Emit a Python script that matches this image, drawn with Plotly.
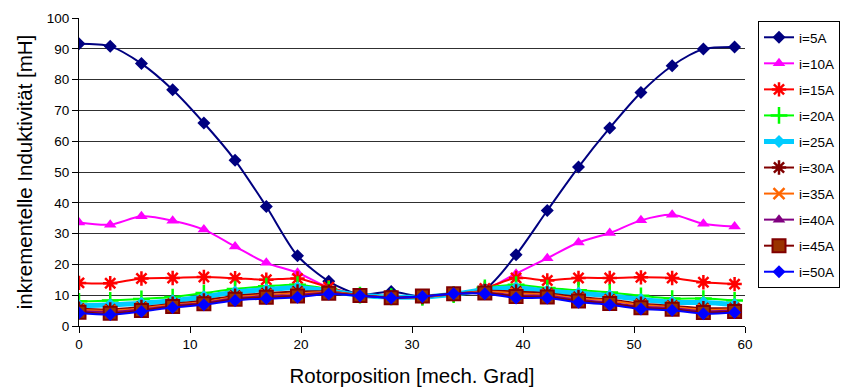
import plotly.graph_objects as go

# Rotor position samples [mech. degrees]
rotor_pos = [0.0, 2.8125, 5.625, 8.4375, 11.25, 14.0625, 16.875, 19.6875, 22.5,
             25.3125, 28.125, 30.9375, 33.75, 36.5625, 39.375, 42.1875, 45.0,
             47.8125, 50.625, 53.4375, 56.25, 59.0625]

# Incremental inductance [mH] per phase current
L_5A = [91.6, 90.8, 85.2, 76.7, 65.9, 53.8, 38.8, 22.8, 14.5, 10.2, 11.2, 9.5,
        10.6, 12.0, 23.1, 37.5, 51.6, 64.3, 75.8, 84.5, 89.9, 90.6]
L_10A = [33.6, 32.9, 35.6, 34.2, 31.3, 25.8, 20.5, 17.3, 12.5, 10.0, 9.6, 9.3,
         10.2, 11.8, 17.0, 22.0, 27.1, 30.2, 34.3, 36.1, 33.2, 32.3]
L_15A = [14.0, 13.9, 15.4, 15.6, 15.9, 15.5, 15.0, 15.4, 12.6, 10.0, 9.6, 9.3,
         10.2, 12.2, 15.6, 14.8, 15.6, 15.6, 15.8, 15.6, 14.2, 13.6]
L_20A = [8.0, 8.3, 8.8, 9.4, 10.7, 12.0, 12.9, 13.4, 12.0, 10.0, 9.5, 9.3,
         10.2, 12.4, 13.4, 12.3, 11.6, 10.9, 9.8, 8.9, 8.9, 8.3]
L_25A = [6.6, 6.9, 7.4, 8.2, 9.5, 11.0, 11.8, 12.4, 11.4, 10.0, 9.4, 9.4,
         10.3, 11.8, 12.3, 11.4, 10.6, 9.8, 8.6, 7.7, 7.6, 7.0]
L_30A = [5.6, 5.4, 6.2, 7.2, 8.3, 9.8, 10.6, 11.2, 11.2, 10.0, 9.3, 9.4,
         10.4, 11.4, 11.2, 10.6, 9.4, 8.6, 7.2, 6.6, 5.8, 5.8]
L_35A = [5.2, 5.0, 5.8, 6.9, 7.8, 9.4, 10.1, 10.6, 11.0, 10.0, 9.3, 9.5,
         10.4, 11.2, 10.6, 10.2, 8.9, 8.2, 6.8, 6.2, 5.3, 5.4]
L_40A = [4.9, 4.6, 5.4, 6.6, 7.5, 9.0, 9.7, 10.1, 10.8, 9.9, 9.2, 9.6,
         10.5, 10.9, 10.0, 9.8, 8.5, 7.6, 6.3, 5.8, 4.8, 5.0]
L_45A = [4.5, 4.1, 5.0, 6.3, 7.2, 8.7, 9.3, 9.7, 10.6, 9.9, 9.2, 9.7,
         10.5, 10.7, 9.6, 9.4, 8.1, 7.3, 5.9, 5.4, 4.4, 4.7]
L_50A = [4.2, 3.7, 4.7, 6.0, 6.9, 8.3, 8.9, 9.3, 10.4, 9.8, 9.1, 9.6,
         10.5, 10.5, 9.1, 9.1, 7.7, 6.9, 5.5, 5.1, 4.0, 4.4]

series_names = ["i=5A", "i=10A", "i=15A", "i=20A", "i=25A",
                "i=30A", "i=35A", "i=40A", "i=45A", "i=50A"]
series_values = [L_5A, L_10A, L_15A, L_20A, L_25A,
                 L_30A, L_35A, L_40A, L_45A, L_50A]

# line colour, line width, marker symbol, marker size, marker fill, marker edge, edge width
styles = [
    ("#000080", 2, "diamond", 10, "#000080", "#000080", 0),
    ("#FF00FF", 2, "triangle-up", 11, "#FF00FF", "#FF00FF", 0),
    ("#FF0000", 2, "asterisk-open", 12, "#FF0000", "#FF0000", 2.5),
    ("#00FF00", 2, "cross-thin-open", 12, "#00FF00", "#00FF00", 2.5),
    ("#00CCFF", 5, "diamond", 10, "#00CCFF", "#00CCFF", 0),
    ("#800000", 2, "asterisk-open", 12, "#800000", "#800000", 2.5),
    ("#FF6600", 2, "x-thin-open", 11, "#FF6600", "#FF6600", 2.5),
    ("#800080", 2, "triangle-up", 11, "#800080", "#800080", 0),
    ("#800000", 2, "square", 13, "#993300", "#800000", 2),
    ("#0000FF", 2, "diamond", 10, "#0000FF", "#0000FF", 0),
]

fig = go.Figure()
for k, (name, vals, st) in enumerate(zip(series_names, series_values, styles)):
    lc, lw, sym, ms, mfill, medge, mew = st
    fig.add_trace(go.Scatter(
        x=rotor_pos, y=vals, name=name, mode="lines+markers",
        legendgroup=f"g{k}",
        line=dict(color=lc, width=lw, shape="spline", smoothing=0.8),
        marker=dict(symbol=sym, size=ms, color=mfill,
                    line=dict(color=medge, width=mew)),
    ))

font_family = "Liberation Sans, Arial, sans-serif"

fig.update_layout(
    width=855, height=392,
    margin=dict(l=79, r=110, t=18, b=66, autoexpand=False),
    plot_bgcolor="white", paper_bgcolor="white",
    font=dict(family=font_family, size=13.5, color="black"),
    showlegend=True,
    legend=dict(
        xref="container", x=758 / 855, xanchor="left",
        yref="container", y=1 - 21 / 392, yanchor="top",
        bgcolor="white", bordercolor="black", borderwidth=1,
        font=dict(size=13.5, family=font_family),
        tracegroupgap=5.5, traceorder="grouped",
        itemwidth=30, maxheight=330,
    ),
    xaxis=dict(
        range=[0, 60], tickvals=[0, 10, 20, 30, 40, 50, 60],
        showgrid=False, zeroline=False,
        showline=True, linecolor="black", linewidth=1,
        ticks="outside", ticklen=6, tickcolor="black",
        tickfont=dict(size=13.5),
        title=dict(text="Rotorposition [mech. Grad]",
                   font=dict(size=20.5), standoff=17),
    ),
    yaxis=dict(
        range=[0, 100], dtick=10,
        showgrid=True, gridcolor="#303030", gridwidth=1,
        zeroline=False,
        showline=True, linecolor="black", linewidth=1,
        ticks="outside", ticklen=6, tickcolor="black",
        tickfont=dict(size=13.5),
        title=dict(text="inkrementelle Induktivität [mH]",
                   font=dict(size=20.5), standoff=8),
    ),
)

fig.write_html("out.html")
